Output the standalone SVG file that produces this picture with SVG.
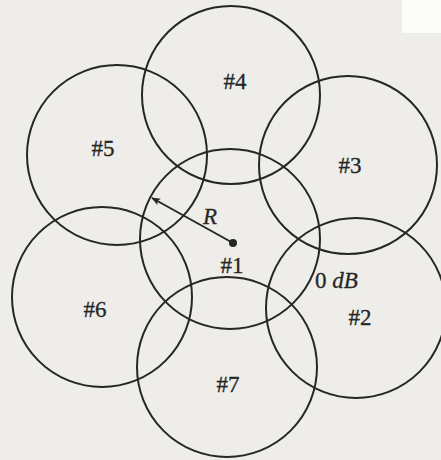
<svg xmlns="http://www.w3.org/2000/svg" width="441" height="460" viewBox="0 0 441 460">
<style>
.cell{fill:none;stroke:#262626;stroke-width:2}
.lbl{font-family:"Liberation Serif","Times New Roman",serif;font-size:23px;fill:#262626;stroke:#262626;stroke-width:0.3;text-anchor:middle}
.it{font-style:italic}
</style>
<defs>
<marker id="ah" viewBox="0 0 10 10" refX="9" refY="5" markerWidth="10" markerHeight="9" orient="auto-start-reverse" markerUnits="userSpaceOnUse">
<path d="M0,1 L10,5 L0,9 L2,5 Z" fill="#262626"/>
</marker>
</defs>
<rect width="441" height="460" fill="#eeede9"/>
<rect x="402" y="0" width="39" height="33" fill="#fbfbf9"/>
<g id="cell1"><circle class="cell" cx="230" cy="239" r="90"/><text class="lbl" x="232" y="273">#1</text></g>
<g id="cell2"><circle class="cell" cx="356" cy="308" r="90"/><text class="lbl" x="360" y="325">#2</text></g>
<g id="cell3"><circle class="cell" cx="348" cy="165" r="89"/><text class="lbl" x="350" y="173">#3</text></g>
<g id="cell4"><circle class="cell" cx="231" cy="95" r="89"/><text class="lbl" x="235" y="89">#4</text></g>
<g id="cell5"><circle class="cell" cx="117" cy="155" r="90"/><text class="lbl" x="103" y="156">#5</text></g>
<g id="cell6"><circle class="cell" cx="102" cy="297" r="90"/><text class="lbl" x="95" y="317">#6</text></g>
<g id="cell7"><circle class="cell" cx="227" cy="367" r="90"/><text class="lbl" x="228" y="392">#7</text></g>
<g id="connectors">
<line x1="233" y1="243" x2="152" y2="198" stroke="#262626" stroke-width="2" marker-end="url(#ah)"/>
<circle cx="233" cy="243" r="4" fill="#262626"/>
</g>
<text class="lbl it" x="210" y="224">R</text>
<text class="lbl" x="315" y="288" style="text-anchor:start">0 <tspan class="it">dB</tspan></text>
</svg>
